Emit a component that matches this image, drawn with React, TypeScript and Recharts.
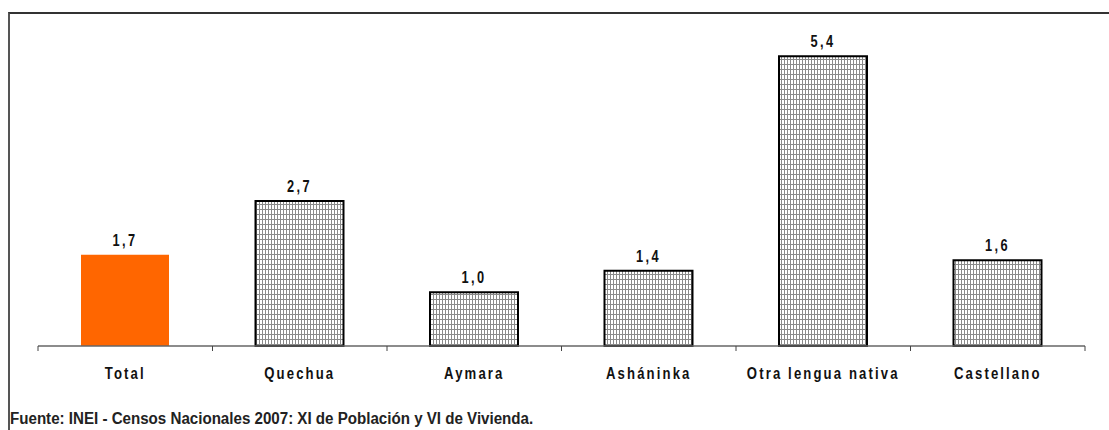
import { BarChart, Bar, XAxis, YAxis, Cell, LabelList } from "recharts";

const categories = ["Total", "Quechua", "Aymara", "Asháninka", "Otra lengua nativa", "Castellano"];
const values = [1.7, 2.7, 1.0, 1.4, 5.4, 1.6];
const source = "Fuente: INEI - Censos Nacionales 2007: XI de Población y VI de Vivienda.";

const CHART_W = 1099;
const CHART_H = 372;
const MARGIN = { top: 10, right: 24, bottom: 0, left: 28 };
const BAND = (CHART_W - MARGIN.left - MARGIN.right) / categories.length;
const FONT = '"Liberation Sans", Arial, sans-serif';

const data = categories.map((name, i) => ({ name, value: values[i] }));

// narrow bold text, like Arial Narrow in the original
function NarrowText({ x, y, text, spacing, narrow = 0.8 }: { x: number; y: number; text: string; spacing: number; narrow?: number }) {
  return (
    <text
      transform={`translate(${x},${y}) scale(${narrow},1)`}
      textAnchor="middle"
      fontFamily={FONT}
      fontWeight="bold"
      fontSize={16}
      letterSpacing={spacing}
      fill="#111"
    >
      {text}
    </text>
  );
}

function CategoryTick(props: any) {
  const { x, y, payload, index } = props;
  const left = x - BAND / 2;
  const right = x + BAND / 2;
  return (
    <g>
      <line x1={left} y1={y - 8} x2={left} y2={y - 3} stroke="#444" strokeWidth={1} />
      {index === categories.length - 1 && (
        <line x1={right} y1={y - 8} x2={right} y2={y - 3} stroke="#444" strokeWidth={1} />
      )}
      <NarrowText x={x} y={y + 25} text={payload.value} spacing={2.6} narrow={0.82} />
    </g>
  );
}

function ValueLabel(props: any) {
  const { x, y, width, value } = props;
  return <NarrowText x={x + width / 2} y={y - 9} text={Number(value).toFixed(1).replace(".", ",")} spacing={3} />;
}

export default function App() {
  return (
    <div
      style={{
        position: "absolute",
        left: 8,
        top: 12,
        width: 1099,
        height: 418,
        borderTop: "2px solid #333",
        borderLeft: "2px solid #555",
        background: "#fff",
      }}
    >
      <BarChart width={CHART_W} height={CHART_H} data={data} margin={MARGIN}>
        <defs>
          <pattern id="grid" width={3} height={5} patternUnits="userSpaceOnUse">
            <rect width={3} height={5} fill="#fff" />
            <line x1={0.5} y1={0} x2={0.5} y2={5} stroke="#8a8a8a" strokeWidth={1} />
            <line x1={0} y1={0.5} x2={3} y2={0.5} stroke="#8a8a8a" strokeWidth={1} />
          </pattern>
        </defs>
        <XAxis
          dataKey="name"
          height={40}
          tickLine={false}
          axisLine={{ stroke: "#666", strokeWidth: 1.5 }}
          tick={<CategoryTick />}
          interval={0}
        />
        <YAxis hide domain={[0, 6]} />
        <Bar dataKey="value" barSize={88} isAnimationActive={false}>
          {data.map((d, i) => (
            <Cell
              key={d.name}
              fill={i === 0 ? "#FF6600" : "url(#grid)"}
              stroke={i === 0 ? "none" : "#000"}
              strokeWidth={i === 0 ? 0 : 2}
            />
          ))}
          <LabelList dataKey="value" content={<ValueLabel />} />
        </Bar>
      </BarChart>
      <div
        style={{
          position: "absolute",
          left: 0,
          top: 396,
          fontFamily: FONT,
          fontWeight: "bold",
          fontSize: 16,
          color: "#222",
          whiteSpace: "nowrap",
          transform: "scaleX(0.945)",
          transformOrigin: "left top",
        }}
      >
        {source}
      </div>
    </div>
  );
}
